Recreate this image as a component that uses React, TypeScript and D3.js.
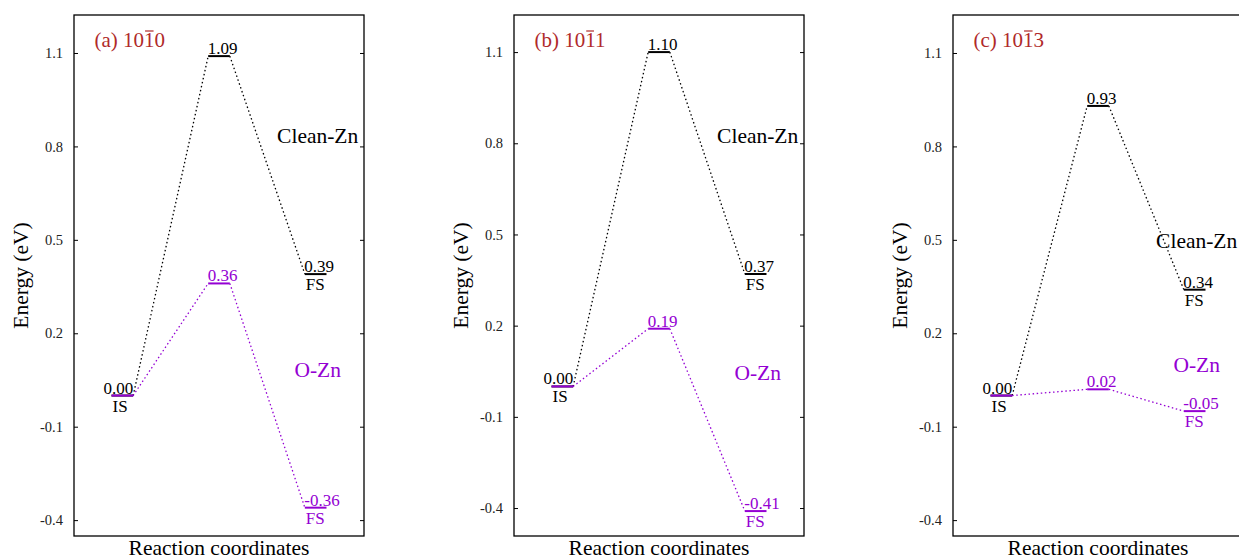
import { useEffect, useRef } from 'react'
import * as d3 from 'd3'

// energies (eV) at IS, TS, FS for each surface
const panelIds = ['a', 'b', 'c']
const panelPrefix = ['(a) 10', '(b) 10', '(c) 10']
const panelBarDigit = ['1', '1', '1']
const panelSuffix = ['0', '1', '3']
const stateNames = ['IS', 'TS', 'FS']
const cleanZn = [
  [0.0, 1.09, 0.39],
  [0.0, 1.1, 0.37],
  [0.0, 0.93, 0.34],
]
const oZn = [
  [0.0, 0.36, -0.36],
  [0.0, 0.19, -0.41],
  [0.0, 0.02, -0.05],
]
const yTicks = [1.1, 0.8, 0.5, 0.2, -0.1, -0.4]
const yDomains = [
  [-0.451, 1.222],
  [-0.492, 1.222],
  [-0.451, 1.222],
]
// where the series names sit (energy units)
const cleanNameY = [0.81, 0.8, 0.473]
const oZnNameY = [0.058, 0.021, 0.077]

const W = 1239
const H = 560
const panelLeft = [74, 514, 953]
const panelWidth = 290
const plotTop = 15
const plotBottom = 536
const FONT = "'Liberation Serif', 'Times New Roman', serif"
const PURPLE = '#9400d3'
const TITLE_RED = '#b02a2a'
const HALF = 0.112

export default function App() {
  const ref = useRef<SVGSVGElement>(null)

  useEffect(() => {
    document.body.style.margin = '0'
    const svg = d3.select(ref.current)
    svg.selectAll('*').remove()

    panelIds.forEach((id, i) => {
      const x0 = panelLeft[i]
      const x = d3.scaleLinear().domain([0.5, 3.5]).range([x0, x0 + panelWidth])
      const y = d3.scaleLinear().domain(yDomains[i]).range([plotBottom, plotTop])
      const g = svg.append('g').attr('class', `panel-${id}`).style('font-family', FONT)

      // axes: inward ticks on both sides, labels on the left only
      const left = g.append('g').attr('transform', `translate(${x0},0)`)
        .call(d3.axisLeft(y).tickValues(yTicks).tickSize(-4).tickPadding(11).tickFormat((d) => String(d)))
      left.select('.domain').remove()
      left.selectAll('text').attr('font-size', 14.5).style('font-family', FONT).attr('fill', '#222')
      left.selectAll('line').attr('stroke', '#000')
      const right = g.append('g').attr('transform', `translate(${x0 + panelWidth},0)`)
        .call(d3.axisRight(y).tickValues(yTicks).tickSize(-4).tickFormat(() => ''))
      right.select('.domain').remove()
      right.selectAll('line').attr('stroke', '#000')

      g.append('rect')
        .attr('x', x0).attr('y', plotTop)
        .attr('width', panelWidth).attr('height', plotBottom - plotTop)
        .attr('fill', 'none').attr('stroke', '#000').attr('stroke-width', 1.3)

      // axis titles
      g.append('text')
        .attr('transform', `translate(${x0 - 46},${(plotTop + plotBottom) / 2}) rotate(-90)`)
        .attr('text-anchor', 'middle').attr('font-size', 21.5).attr('fill', '#000')
        .text('Energy (eV)')
      g.append('text')
        .attr('x', x0 + panelWidth / 2).attr('y', 555)
        .attr('text-anchor', 'middle').attr('font-size', 21.5).attr('fill', '#000')
        .text('Reaction coordinates')

      // panel title with overbar on the third index digit
      const title = g.append('text')
        .attr('x', x0 + 20.5).attr('y', 47)
        .attr('font-size', 21).attr('fill', TITLE_RED)
        .text(panelPrefix[i] + panelBarDigit[i] + panelSuffix[i])
      const tn = title.node() as SVGTextElement
      const bi = panelPrefix[i].length
      const bs = tn.getStartPositionOfChar(bi).x
      const be = tn.getEndPositionOfChar(bi).x
      g.append('line')
        .attr('x1', bs + 1).attr('x2', be - 1)
        .attr('y1', 47 - 16).attr('y2', 47 - 16)
        .attr('stroke', TITLE_RED).attr('stroke-width', 1.2)

      const series = [
        { vals: cleanZn[i], color: '#000', name: 'Clean-Zn', nameY: cleanNameY[i] },
        { vals: oZn[i], color: PURPLE, name: 'O-Zn', nameY: oZnNameY[i] },
      ]

      series.forEach((s, si) => {
        const pts = s.vals.map((v, k) => ({ v, k: k + 1 }))
        // dotted connectors
        for (let k = 0; k < pts.length - 1; k++) {
          g.append('line')
            .attr('x1', x(pts[k].k + HALF)).attr('y1', y(pts[k].v))
            .attr('x2', x(pts[k + 1].k - HALF)).attr('y2', y(pts[k + 1].v))
            .attr('stroke', s.color).attr('stroke-width', 1.3)
            .attr('stroke-dasharray', '1.5,2.6')
        }
        // levels
        g.selectAll(null).data(pts).enter().append('line')
          .attr('x1', (d) => x(d.k - HALF)).attr('x2', (d) => x(d.k + HALF))
          .attr('y1', (d) => y(d.v)).attr('y2', (d) => y(d.v))
          .attr('stroke', s.color).attr('stroke-width', 2)

        // value labels (IS only once, in black)
        pts.forEach((d, k) => {
          if (k === 0 && si > 0) return
          const isIS = k === 0
          g.append('text')
            .attr('x', isIS ? x(d.k + HALF) : x(d.k - HALF) - 0.5)
            .attr('y', y(d.v) - 2)
            .attr('text-anchor', isIS ? 'end' : 'start')
            .attr('font-size', 17).attr('fill', s.color)
            .text(d.v.toFixed(2))
          if (stateNames[k] !== 'TS') {
            g.append('text')
              .attr('x', x(d.k - HALF) + 1)
              .attr('y', y(d.v) + 16)
              .attr('font-size', 17).attr('fill', s.color)
              .text(stateNames[k])
          }
        })

        g.append('text')
          .attr('x', x(3) + 2).attr('y', y(s.nameY))
          .attr('text-anchor', 'middle').attr('font-size', 21.5).attr('fill', s.color)
          .text(s.name)
      })
    })
  }, [])

  return <svg ref={ref} width={W} height={H} style={{ display: 'block', background: '#fff' }} />
}
